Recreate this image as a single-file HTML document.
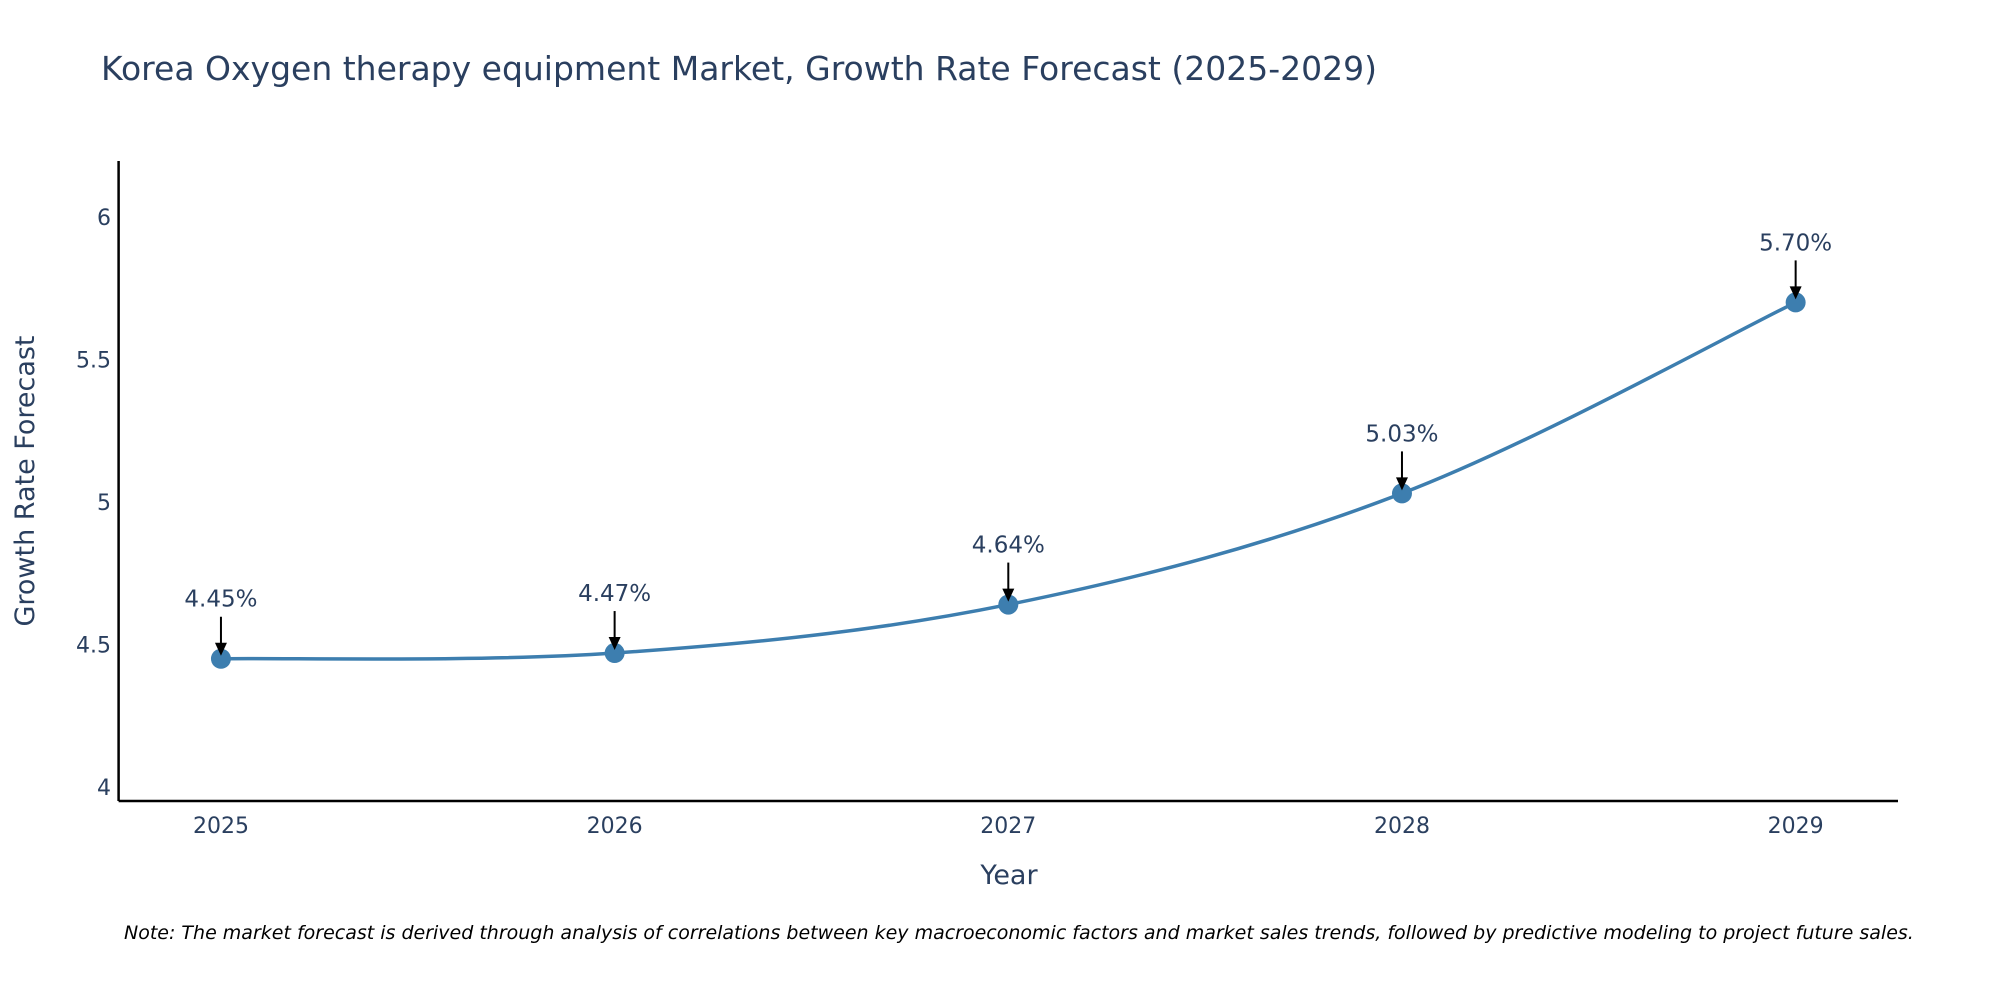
<!DOCTYPE html>
<html><head><meta charset="utf-8"><style>
body{margin:0;background:#fff;}
svg{display:block;font-family:"DejaVu Sans","Liberation Sans",sans-serif;}
</style></head><body>
<svg id="chart" width="2000" height="1000" viewBox="0 0 2000 1000" xmlns="http://www.w3.org/2000/svg">
<rect width="2000" height="1000" fill="#fff"/>
<text x="101" y="80" font-size="33" fill="#2a3f5f">Korea Oxygen therapy equipment Market, Growth Rate Forecast (2025-2029)</text>
<g id="ticks"></g>
<line x1="118.6" y1="161" x2="118.6" y2="801" stroke="#000" stroke-width="2.5"/>
<line x1="118.6" y1="801" x2="1898" y2="801" stroke="#000" stroke-width="2.5"/>
<text transform="translate(34,481) rotate(-90)" text-anchor="middle" font-size="27" fill="#2a3f5f">Growth Rate Forecast</text>
<text x="1009" y="884" text-anchor="middle" font-size="27" fill="#2a3f5f">Year</text>
<g id="series"></g>
<text x="124" y="939" font-size="19" font-style="italic" fill="#000">Note: The market forecast is derived through analysis of correlations between key macroeconomic factors and market sales trends, followed by predictive modeling to project future sales.</text>
</svg>
<script>
const years = [2025, 2026, 2027, 2028, 2029];
const growth = [4.45, 4.47, 4.64, 5.03, 5.70];
const labels = ["4.45%", "4.47%", "4.64%", "5.03%", "5.70%"];
const yTicks = [4, 4.5, 5, 5.5, 6];
const yTickLabels = ["4", "4.5", "5", "5.5", "6"];

const NS = "http://www.w3.org/2000/svg";
const X0 = 118.6, X1 = 1898, Y0 = 801, Y1 = 161;
const xMin = 2024.74, xMax = 2029.26, yMin = 3.951, yMax = 6.196;
const xs = v => X0 + (v - xMin) / (xMax - xMin) * (X1 - X0);
const ys = v => Y0 - (v - yMin) / (yMax - yMin) * (Y0 - Y1);
function mk(tag, attrs, parent) {
  const e = document.createElementNS(NS, tag);
  for (const k in attrs) e.setAttribute(k, attrs[k]);
  parent.appendChild(e);
  return e;
}
const tg = document.getElementById("ticks");
yTicks.forEach((t, i) => {
  const e = mk("text", {x: 111, y: ys(t) + 8, "text-anchor": "end", "font-size": 22, fill: "#2a3f5f"}, tg);
  
  
  e.textContent = yTickLabels[i];
});
years.forEach(y => {
  const e = mk("text", {x: xs(y), y: 833, "text-anchor": "middle", "font-size": 22, fill: "#2a3f5f"}, tg);
  
  
  e.textContent = y;
});
const sg = document.getElementById("series");
const pts = years.map((y, i) => [xs(y), ys(growth[i])]);
let d = "M" + pts[0][0] + "," + pts[0][1];
const s = 0.17;
for (let i = 0; i < pts.length - 1; i++) {
  const p0 = pts[i - 1] || pts[i], p1 = pts[i], p2 = pts[i + 1], p3 = pts[i + 2] || p2;
  const c1 = [p1[0] + (p2[0] - p0[0]) * s, p1[1] + (p2[1] - p0[1]) * s];
  const c2 = [p2[0] - (p3[0] - p1[0]) * s, p2[1] - (p3[1] - p1[1]) * s];
  d += " C" + c1 + " " + c2 + " " + p2;
}
const line = mk("path", {d: d, fill: "none", stroke: "#3d7eaf", "stroke-width": 3.5}, sg);


pts.forEach((p, i) => {
  const c = mk("circle", {cx: p[0], cy: p[1], r: 10, fill: "#3d7eaf"}, sg);
  
  
  const a = mk("line", {x1: p[0], y1: p[1] - 42, x2: p[0], y2: p[1] - 14, stroke: "#000", "stroke-width": 2}, sg);
  
  
  const h = mk("polygon", {points: (p[0]-6)+","+(p[1]-16)+" "+(p[0]+6)+","+(p[1]-16)+" "+p[0]+","+(p[1]-3), fill: "#000"}, sg);
  
  
  const t = mk("text", {x: p[0], y: p[1] - 52, "text-anchor": "middle", "font-size": 23, fill: "#2a3f5f"}, sg);
  
  
  t.textContent = labels[i];
});
</script>
</body></html>
